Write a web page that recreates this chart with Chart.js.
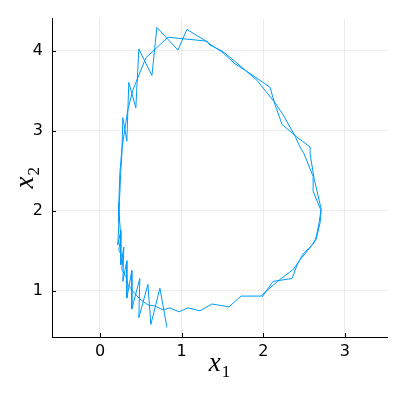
<!DOCTYPE html>
<html><head><meta charset="utf-8">
<script src="https://cdn.jsdelivr.net/npm/chart.js@4/dist/chart.umd.min.js"></script>
<style>html,body{margin:0;padding:0;background:#fff;}canvas{display:block;}</style>
</head><body>
<canvas id="c" width="399" height="400"></canvas>
<script>
const x1 = [1.985,2.120,2.353,2.415,2.488,2.611,2.648,2.685,2.709,2.623,2.574,2.574,2.415,2.231,2.145,2.083,1.838,1.654,1.494,1.347,1.298,1.065,0.955,0.697,0.636,0.476,0.439,0.353,0.329,0.280,0.268,0.255,0.243,0.231,0.255,0.231,0.280,0.268,0.317,0.341,0.402,0.488,0.587,0.672,0.771,0.856,0.967,1.077,1.224,1.372,1.580,1.728,1.973,
2.034,2.205,2.365,2.451,2.549,2.648,2.697,2.709,2.611,2.611,2.500,2.451,2.390,2.243,2.145,1.924,1.617,1.494,1.347,1.310,0.832,0.562,0.402,0.341,0.304,0.268,0.243,0.231,0.231,0.218,0.255,0.255,0.292,0.280,0.329,0.329,0.390,0.390,0.488,0.476,0.587,0.623,0.734,0.820];
const x2 = [0.920,1.117,1.153,1.325,1.460,1.583,1.669,1.853,2.025,2.405,2.712,2.798,2.920,3.080,3.325,3.546,3.718,3.840,3.988,4.086,4.123,4.270,4.012,4.294,3.693,4.025,3.288,3.607,2.871,3.166,2.712,2.503,2.221,2.012,1.669,1.509,1.411,1.264,1.178,1.080,0.994,0.896,0.822,0.810,0.761,0.785,0.736,0.785,0.748,0.834,0.798,0.933,0.933,
0.994,1.141,1.264,1.387,1.509,1.644,1.853,2.000,2.245,2.429,2.712,2.798,2.933,3.202,3.350,3.632,3.902,4.000,4.074,4.123,4.172,3.914,3.509,3.264,3.018,2.773,2.466,2.098,1.853,1.571,1.755,1.325,1.546,1.117,1.374,0.908,1.252,0.773,1.153,0.663,1.080,0.577,1.031,0.540];
const xTicks = [0,1,2,3];
const yTicks = [1,2,3,4];
const xRange = [-0.588, 3.516];
const yRange = [0.421, 4.405];
const xLabel = ['x','1'];
const yLabel = ['x','2'];

const extras = {
  id:'extras',
  afterDraw(chart){
    const ctx = chart.ctx, a = chart.chartArea;
    const sx = chart.scales.x, sy = chart.scales.y;
    ctx.save();
    ctx.strokeStyle = '#000'; ctx.lineWidth = 1;
    ctx.beginPath();
    xTicks.forEach(v=>{const p=Math.round(sx.getPixelForValue(v))+0.5; ctx.moveTo(p,a.bottom); ctx.lineTo(p,a.bottom-4);});
    yTicks.forEach(v=>{const p=Math.round(sy.getPixelForValue(v))+0.5; ctx.moveTo(a.left,p); ctx.lineTo(a.left+4,p);});
    ctx.stroke();
    ctx.fillStyle = '#000';
    ctx.textBaseline = 'alphabetic';
    const mainFont = 'italic 27px "Liberation Serif"';
    const subFont = '17px "Liberation Serif"';
    ctx.font = mainFont; const w1 = ctx.measureText(xLabel[0]).width;
    ctx.font = subFont; const w2 = ctx.measureText(xLabel[1]).width;
    let cx = (a.left+a.right)/2 - (w1+w2+1)/2;
    const by = a.bottom + 34;
    ctx.font = mainFont; ctx.textAlign='left'; ctx.fillText(xLabel[0], cx, by);
    ctx.font = subFont; ctx.fillText(xLabel[1], cx+w1+1, by+6);
    ctx.save();
    ctx.translate(33, (a.top+a.bottom)/2);
    ctx.rotate(-Math.PI/2);
    ctx.font = mainFont; const v1 = ctx.measureText(yLabel[0]).width;
    ctx.font = subFont; const v2 = ctx.measureText(yLabel[1]).width;
    let cy = -(v1+v2+1)/2;
    ctx.font = mainFont; ctx.fillText(yLabel[0], cy, 0);
    ctx.font = subFont; ctx.fillText(yLabel[1], cy+v1+1, 6);
    ctx.restore();
    ctx.restore();
  }
};

const tickFont = {family:'DejaVu Sans', size:16};
new Chart(document.getElementById('c'), {
  type:'scatter',
  data:{datasets:[{data:x1.map((v,i)=>({x:v,y:x2[i]})), showLine:true, borderColor:'#009afa', borderWidth:1, pointRadius:0, fill:false, tension:0}]},
  options:{
    responsive:false, animation:false, devicePixelRatio:1,
    layout:{padding:{top:12,right:12,left:0,bottom:0}},
    plugins:{legend:{display:false}, tooltip:{enabled:false}},
    scales:{
      x:{type:'linear', min:xRange[0], max:xRange[1],
        afterBuildTicks:s=>{s.ticks=xTicks.map(v=>({value:v}));},
        afterFit:s=>{s.height=63;},
        grid:{color:'rgba(0,0,0,0.075)', drawTicks:false},
        border:{display:true,color:'#000',width:1},
        ticks:{color:'#000', font:tickFont, padding:5, maxRotation:0}},
      y:{type:'linear', min:yRange[0], max:yRange[1],
        afterBuildTicks:s=>{s.ticks=yTicks.map(v=>({value:v}));},
        afterFit:s=>{s.width=52;},
        grid:{color:'rgba(0,0,0,0.075)', drawTicks:false},
        border:{display:true,color:'#000',width:1},
        ticks:{color:'#000', font:tickFont, padding:9}}
    }
  },
  plugins:[extras]
});
</script>
</body></html>
